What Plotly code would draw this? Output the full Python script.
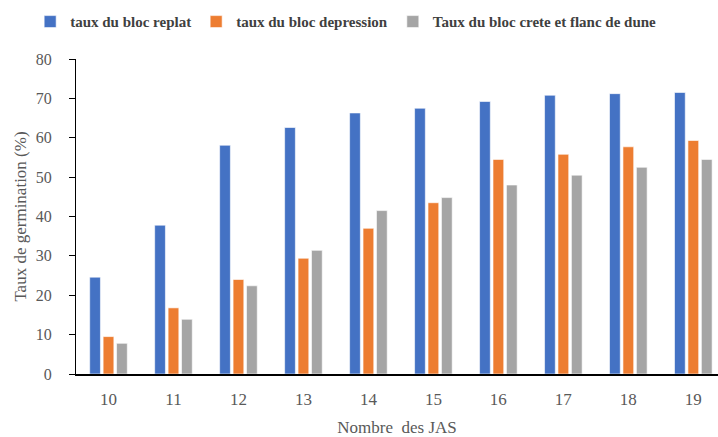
import plotly.graph_objects as go

categories = ["10", "11", "12", "13", "14", "15", "16", "17", "18", "19"]
replat = [24.6, 37.8, 58.1, 62.6, 66.3, 67.5, 69.2, 70.8, 71.2, 71.5]
depression = [9.5, 16.8, 24.0, 29.4, 37.0, 43.5, 54.5, 55.8, 57.7, 59.3]
crete = [7.8, 13.9, 22.4, 31.4, 41.5, 44.8, 48.0, 50.5, 52.5, 54.5]
series_names = ["taux du bloc replat", "taux du bloc depression",
                "Taux du bloc crete et flanc de dune"]
colors = ["#4472C4", "#ED7D31", "#A5A5A5"]

fig = go.Figure()
for name, vals, col in zip(series_names, [replat, depression, crete], colors):
    fig.add_trace(go.Bar(
        x=categories, y=vals, name=name,
        marker=dict(color=col, line=dict(color="white", width=0.6)),
    ))

serif = "Liberation Serif"
fig.update_layout(
    width=718, height=437,
    margin=dict(l=76, r=0, t=59, b=63, autoexpand=False),
    paper_bgcolor="white", plot_bgcolor="white",
    barmode="group", bargap=0.38, bargroupgap=0.2,
    font=dict(family=serif, color="#595959"),
    legend=dict(
        orientation="h", x=0.042, xref="container", y=0.95, yref="container",
        xanchor="left", yanchor="middle",
        font=dict(family=serif, size=15, color="#404040", weight="bold"),
        itemwidth=30, traceorder="normal",
    ),
    showlegend=True,
)
fig.update_xaxes(
    type="category", range=[-0.5, 9.38], automargin=False,
    showline=True, linecolor="black", linewidth=1.5,
    ticks="", showgrid=False, ticklabelstandoff=9,
    tickfont=dict(family=serif, size=17, color="#595959"),
    title=dict(text="Nombre  des JAS", font=dict(family=serif, size=17, color="#595959"), standoff=17),
)
fig.update_yaxes(
    range=[0, 80], dtick=10, automargin=False,
    showline=True, linecolor="black", linewidth=1.2,
    ticks="outside", ticklen=6, tickcolor="black",
    showgrid=False, zeroline=False,
    ticklabelstandoff=14,
    tickfont=dict(family=serif, size=16, color="#595959"),
    title=dict(text="Taux de germination (%)", font=dict(family=serif, size=17, color="#595959"), standoff=4),
)

fig.write_html(
    "out.html",
    config={"displayModeBar": False},
    post_script="document.body.style.margin='0';document.body.style.overflow='hidden';",
)
